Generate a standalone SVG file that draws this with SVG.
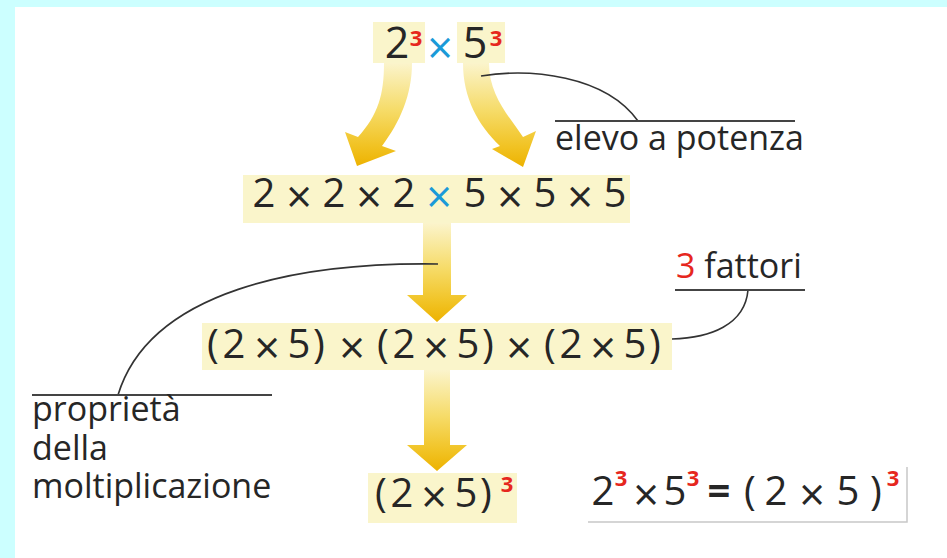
<svg xmlns="http://www.w3.org/2000/svg" width="947" height="558" viewBox="0 0 947 558">
<style>
.m{font-family:"Open Sans","Liberation Sans",sans-serif;font-size:40px;fill:#262626;text-anchor:middle}
.big{font-size:43px}
.x{font-size:45px}
.b{fill:#1b9ad8}
.sup{font-family:"Open Sans","Liberation Sans",sans-serif;font-size:22px;font-weight:bold;fill:#e6271e;text-anchor:middle}
.lbl{font-family:"Open Sans","Liberation Sans",sans-serif;font-size:34px;fill:#262626}
.hl{fill:#faf5cb}
.lead{fill:none;stroke:#333;stroke-width:1.6}
.ul{fill:none;stroke:#444;stroke-width:2}
.arr{stroke:none}
</style>
<defs>
<linearGradient id="g" x1="0" y1="0" x2="0" y2="1">
<stop offset="0" stop-color="#fbf4cc"/>
<stop offset="0.45" stop-color="#f6dc6a"/>
<stop offset="0.8" stop-color="#f1c324"/>
<stop offset="1" stop-color="#edb200"/>
</linearGradient>
</defs>
<rect width="947" height="558" fill="#ffffff"/>
<rect x="0" y="0" width="947" height="7" fill="#ccffff"/>
<rect x="0" y="0" width="15" height="558" fill="#ccffff"/>

<g id="connectors">
<path class="arr" fill="url(#g)" d="M384,63 C384,95 378,115 358,137 L345,132 L357,166 L396,151 L382,146 C400,122 412,95 412,63 Z"/>
<path class="arr" fill="url(#g)" d="M463,63 C463,98 478,125 500,146 L492,149 L523,167 L536,131 L523,137 C508,115 489,95 489,63 Z"/>
<path class="arr" fill="url(#g)" d="M423,223 L451,223 L451,295 L467,295 L437,322 L407,295 L423,295 Z"/>
<path class="arr" fill="url(#g)" d="M424,370 L450,370 L450,445 L467,445 L437,471 L407,445 L424,445 Z"/>
<path class="lead" d="M481,76 C530,68 605,75 638,121"/>
<path class="lead" d="M438,264 C300,262 150,290 118,395"/>
<path class="lead" d="M748,290 C745,325 710,338 672,339"/>
</g>

<g id="n-top">
<rect class="hl" x="373" y="22" width="52" height="41"/>
<rect class="hl" x="457" y="22" width="48" height="41"/>
<text class="m big" x="397 440 475" y="58 64 58">2<tspan class="b x">×</tspan>5</text>
<text class="sup" x="416 496" y="46">33</text>
</g>

<g id="n-row2">
<rect class="hl" x="243" y="175" width="387" height="48"/>
<text class="m" x="264 299 334 369 404 439 475 510 545 580 615" y="207 213 207 213 207 213 207 213 207 213 207">2<tspan class="x">×</tspan>2<tspan class="x">×</tspan>2<tspan class="b x">×</tspan>5<tspan class="x">×</tspan>5<tspan class="x">×</tspan>5</text>
</g>

<g id="n-row3">
<rect class="hl" x="202" y="323" width="470" height="47"/>
<text class="m" x="213 234 267 299 319 352 383 404 436 468 488 519 550 571 603 635 655" y="358 358 364 358 358 364 358 358 364 358 358 364 358 358 364 358 358">(2<tspan class="x">×</tspan>5)<tspan class="x">×</tspan>(2<tspan class="x">×</tspan>5)<tspan class="x">×</tspan>(2<tspan class="x">×</tspan>5)</text>
</g>

<g id="n-row4">
<rect class="hl" x="368" y="473" width="149" height="50"/>
<text class="m" x="381 402 434 466 486" y="507 507 513 507 507">(2<tspan class="x">×</tspan>5)</text>
<text class="sup" x="507" y="492">3</text>
</g>

<g id="n-formula">
<path fill="none" stroke="#c8c8c8" stroke-width="1.5" d="M588,522 L907,522 L907,467"/>
<text class="m" x="603 646 675 719 750 776 812 848 876" y="505 511 505 505 505 505 511 505 505">2<tspan class="x">×</tspan>5<tspan font-weight="bold">=</tspan>(2<tspan class="x">×</tspan>5)</text>
<text class="sup" x="621 693 893" y="486">333</text>
</g>

<g id="l-elevo">
<line class="ul" x1="555" y1="121" x2="795" y2="121"/>
<text class="lbl" x="555" y="150">elevo a potenza</text>
</g>

<g id="l-fattori">
<line class="ul" x1="675" y1="290" x2="805" y2="290"/>
<text class="lbl" x="676" y="278"><tspan fill="#e6271e">3</tspan> fattori</text>
</g>

<g id="l-proprieta">
<line class="ul" x1="32" y1="395" x2="272" y2="395"/>
<text class="lbl" x="32" y="421">proprietà</text>
<text class="lbl" x="32" y="460">della</text>
<text class="lbl" x="32" y="498">moltiplicazione</text>
</g>
</svg>
